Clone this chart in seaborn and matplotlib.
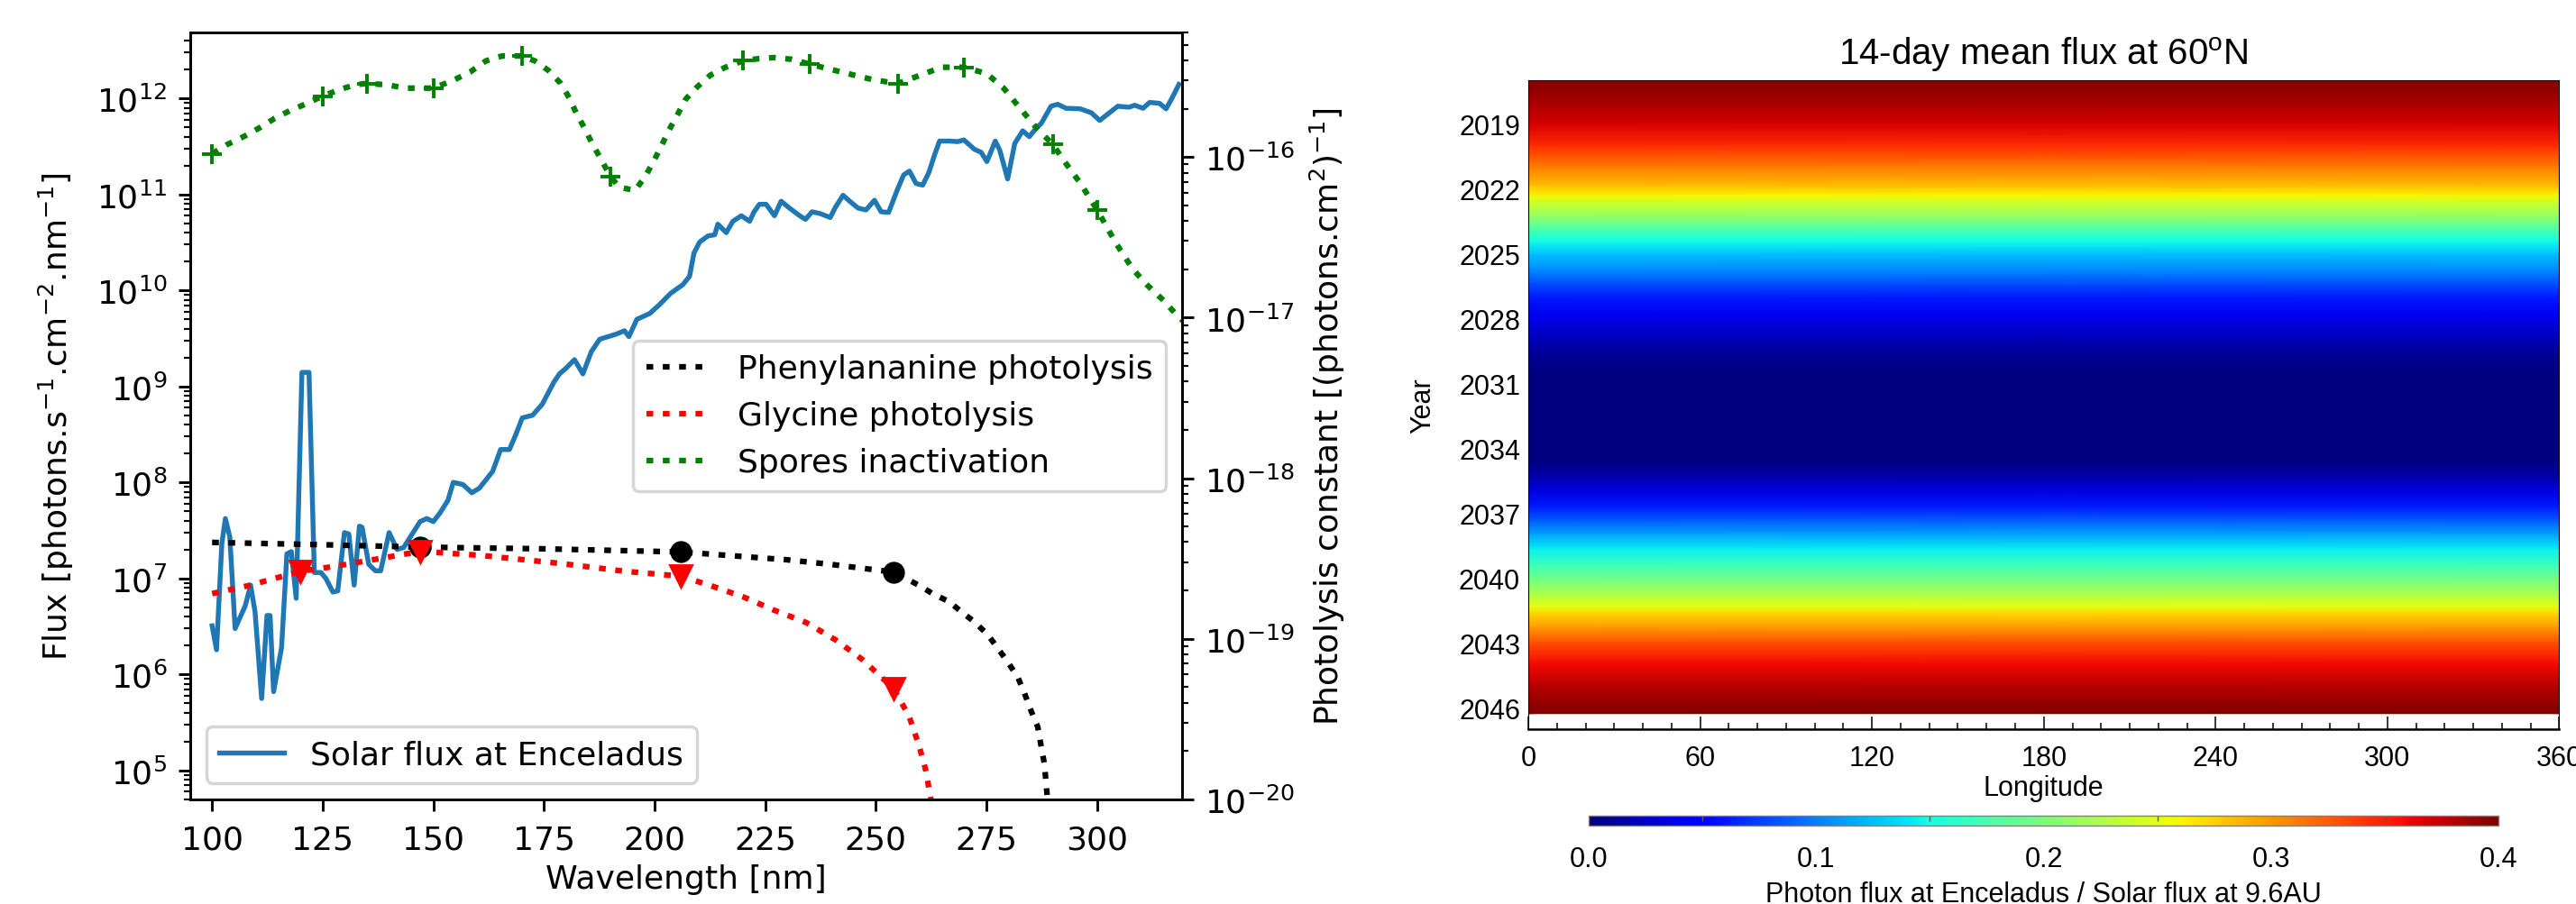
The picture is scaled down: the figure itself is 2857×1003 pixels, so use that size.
import numpy as np
import matplotlib
matplotlib.use("Agg")
import matplotlib.pyplot as plt
from matplotlib.ticker import LogLocator, NullFormatter, MultipleLocator
import seaborn as sns

# ---------------------------------------------------------------
# Left panel: solar spectrum at Enceladus and photolysis constants
# ---------------------------------------------------------------
solar_wavelength = [
    100.0, 101.0, 102.2, 103.0, 104.0, 105.2, 107.5, 108.7, 109.7, 111.2,
    112.4, 113.1, 113.9, 115.7, 116.9, 117.9, 119.0, 120.3, 121.9, 123.1,
    124.6, 125.7, 127.3, 128.4, 129.9, 130.9, 132.1, 133.3, 133.9, 135.4,
    136.9, 138.1, 140.0, 141.8, 143.3, 144.8, 147.0, 148.5, 150.0, 151.5,
    153.3, 154.5, 156.7, 158.7, 160.4, 163.4, 165.2, 167.2, 168.7, 170.1,
    172.4, 174.6, 177.2, 178.5, 180.0, 181.9, 183.8, 185.7, 187.6, 191.3,
    193.2, 194.2, 196.0, 198.9, 201.1, 203.6, 206.4, 207.9, 208.9, 210.2,
    212.1, 213.6, 214.3, 216.2, 217.7, 219.6, 221.5, 222.4, 223.7, 225.2,
    227.1, 228.6, 230.5, 232.8, 234.1, 235.6, 237.5, 239.7, 240.9, 242.6,
    244.1, 246.0, 247.8, 249.7, 251.2, 252.9, 254.8, 256.3, 257.6, 259.1,
    260.6, 262.0, 263.3, 264.4, 266.7, 268.5, 269.9, 272.3, 273.8, 275.1,
    277.0, 278.0, 279.8, 281.4, 283.2, 284.7, 286.4, 287.4, 289.6, 291.1,
    293.0, 296.2, 298.7, 300.6, 302.8, 304.7, 307.2, 308.5, 310.4, 311.9,
    314.1, 315.6, 316.9, 318.5,
]
solar_flux = [
    3.2e6, 1.8e6, 2.3e7, 4.2e7, 2.7e7, 3.0e6, 5.2e6, 8.5e6, 4.5e6, 5.6e5,
    4.1e6, 4.1e6, 6.6e5, 1.9e6, 1.8e7, 1.9e7, 6.2e6, 1.4e9, 1.4e9, 1.15e7,
    1.15e7, 1.0e7, 7.2e6, 7.4e6, 3.0e7, 2.9e7, 8.5e6, 3.5e7, 3.4e7, 1.4e7,
    1.2e7, 1.2e7, 3.0e7, 2.0e7, 2.1e7, 2.7e7, 3.9e7, 4.2e7, 3.9e7, 4.8e7,
    6.5e7, 1.0e8, 9.5e7, 7.8e7, 8.7e7, 1.3e8, 2.2e8, 2.2e8, 3.2e8, 4.7e8,
    5.0e8, 6.5e8, 1.1e9, 1.35e9, 1.55e9, 1.9e9, 1.35e9, 2.3e9, 3.1e9, 3.5e9,
    3.8e9, 3.3e9, 5.0e9, 5.75e9, 7.1e9, 9.3e9, 1.15e10, 1.4e10, 2.45e10, 3.2e10,
    3.7e10, 3.8e10, 4.9e10, 4.0e10, 5.25e10, 6.0e10, 5.25e10, 6.5e10, 7.9e10, 7.9e10,
    6.0e10, 8.5e10, 7.2e10, 6.0e10, 5.5e10, 6.6e10, 6.3e10, 5.75e10, 7.4e10, 9.8e10,
    8.5e10, 7.2e10, 6.9e10, 8.7e10, 6.6e10, 6.5e10, 1.1e11, 1.6e11, 1.75e11, 1.3e11,
    1.25e11, 1.7e11, 2.6e11, 3.6e11, 3.6e11, 3.55e11, 3.7e11, 2.95e11, 2.75e11, 2.2e11,
    3.6e11, 2.9e11, 1.45e11, 3.4e11, 4.6e11, 4.0e11, 5.0e11, 5.5e11, 8.3e11, 8.7e11,
    7.9e11, 7.8e11, 7.1e11, 5.9e11, 7.1e11, 8.3e11, 8.1e11, 8.5e11, 7.9e11, 9.1e11,
    8.9e11, 7.8e11, 1.0e12, 1.4e12,
]

phe_wavelength = [100, 125, 147, 175, 206, 230, 240, 254, 259.9, 262.8, 266.6,
                  269.6, 272.5, 275.4, 277.6, 279.9, 282.1, 283.6, 285.1, 286.6,
                  287.3, 288.1, 288.8, 289.2]
phe_constant = [3.98e-19, 3.85e-19, 3.72e-19, 3.63e-19, 3.47e-19, 3.1e-19, 2.9e-19,
                2.6e-19, 2.14e-19, 1.91e-19, 1.70e-19, 1.45e-19, 1.26e-19, 1.05e-19,
                8.7e-20, 7.1e-20, 5.75e-20, 4.57e-20, 3.55e-20, 2.82e-20, 2.19e-20,
                1.66e-20, 1.0e-20, 5.0e-21]
phe_meas_wavelength = [147, 206, 254]
phe_meas_constant = [3.72e-19, 3.47e-19, 2.6e-19]

gly_wavelength = [100, 108.2, 120, 127.6, 138, 147, 160.4, 178.4, 193.3, 206, 212.7,
                  220.1, 226.9, 234.3, 241, 247, 254, 257.5, 259.7, 261.2, 262.4, 263.0]
gly_constant = [1.91e-19, 2.14e-19, 2.63e-19, 2.82e-19, 3.16e-19, 3.5e-19, 3.31e-19,
                2.95e-19, 2.63e-19, 2.45e-19, 2.14e-19, 1.82e-19, 1.51e-19, 1.26e-19,
                9.8e-20, 7.4e-20, 4.9e-20, 3.3e-20, 2.19e-20, 1.55e-20, 1.02e-20, 7.0e-21]
gly_meas_wavelength = [120, 147, 206, 254]
gly_meas_constant = [2.63e-19, 3.5e-19, 2.45e-19, 4.9e-20]

spore_wavelength = [
    100.0, 103.2, 107.3, 110.5, 114.1, 117.6, 121.1, 125.0, 128.7, 132.3,
    135.0, 139.6, 143.7, 150.0, 154.6, 158.3, 161.9, 165.6, 170.0, 172.9,
    176.0, 178.8, 180.7, 182.4, 184.2, 186.0, 187.9, 190.0, 192.0, 195.6,
    197.9, 199.7, 201.5, 203.3, 205.1, 207.0, 209.7, 212.6, 216.0, 220.0,
    223.3, 227.0, 231.0, 235.0, 242.2, 249.7, 255.0, 261.0, 264.8, 270.0,
    275.1, 278.9, 282.7, 286.4, 290.0, 293.0, 296.2, 300.0, 304.3, 308.1,
    311.5, 315.3, 318.5, 320.0,
]
spore_constant = [
    1.05e-16, 1.19e-16, 1.35e-16, 1.51e-16, 1.74e-16, 1.95e-16, 2.14e-16, 2.4e-16, 2.63e-16, 2.82e-16,
    2.88e-16, 2.82e-16, 2.69e-16, 2.69e-16, 3.02e-16, 3.39e-16, 3.98e-16, 4.27e-16, 4.27e-16, 3.98e-16,
    3.47e-16, 2.88e-16, 2.34e-16, 1.86e-16, 1.51e-16, 1.2e-16, 9.7e-17, 7.6e-17, 6.5e-17, 6.2e-17,
    7.6e-17, 9.3e-17, 1.17e-16, 1.48e-16, 1.82e-16, 2.29e-16, 2.75e-16, 3.24e-16, 3.63e-16, 3.98e-16,
    4.1e-16, 4.17e-16, 4.07e-16, 3.8e-16, 3.39e-16, 3.02e-16, 2.88e-16, 3.31e-16, 3.63e-16, 3.63e-16,
    3.31e-16, 2.69e-16, 2.0e-16, 1.51e-16, 1.2e-16, 9.1e-17, 6.9e-17, 4.7e-17, 2.9e-17, 2.0e-17,
    1.58e-17, 1.26e-17, 1.0e-17, 9.3e-18,
]
spore_meas_wavelength = [100, 125, 135, 150, 170, 190, 220, 235, 255, 270, 290, 300]
spore_meas_constant = [1.05e-16, 2.4e-16, 2.88e-16, 2.69e-16, 4.27e-16, 7.6e-17,
                       3.98e-16, 3.8e-16, 2.88e-16, 3.63e-16, 1.2e-16, 4.7e-17]

wavelength_ticks = [100, 125, 150, 175, 200, 225, 250, 275, 300]

# ---------------------------------------------------------------
# Right panel: 14-day mean flux at 60N versus year and longitude
# ---------------------------------------------------------------
flux_year = [2016.94, 2018.0, 2019.0, 2020.0, 2021.0, 2021.8, 2022.3, 2022.6, 2023.2,
             2023.8, 2024.4, 2025.0, 2025.7, 2026.4, 2027.0, 2027.8, 2028.6, 2029.5,
             2030.5, 2034.5, 2035.3, 2036.0, 2036.7, 2037.4, 2038.0, 2038.7, 2039.4,
             2040.2, 2040.8, 2041.3, 2041.7, 2042.3, 2043.0, 2044.0, 2045.0, 2046.28]
flux_ratio = [0.400, 0.385, 0.370, 0.345, 0.310, 0.285, 0.260, 0.240, 0.215,
              0.180, 0.150, 0.125, 0.105, 0.080, 0.060, 0.040, 0.025, 0.010,
              0.000, 0.000, 0.015, 0.035, 0.060, 0.090, 0.115, 0.145, 0.170,
              0.200, 0.225, 0.250, 0.275, 0.300, 0.330, 0.360, 0.380, 0.400]
longitude_edges = [0, 360]
year_ticks = [2019, 2022, 2025, 2028, 2031, 2034, 2037, 2040, 2043, 2046]
longitude_ticks = [0, 60, 120, 180, 240, 300, 360]
ratio_ticks = [0.0, 0.1, 0.2, 0.3, 0.4]

# ---------------------------------------------------------------
W, H = 2857, 1004
fig = plt.figure(figsize=(W / 100, H / 100), dpi=100)

FS = 26          # left panel text size
LW_AX = 2.08     # axis line width
LW_DOT = 4.5
DOT = (0, (1.2, 1.7))

ax1 = fig.add_axes([0.07375, 0.1158, 0.3851, 0.8476])
ax1.set_yscale("log")
sns.lineplot(x=solar_wavelength, y=solar_flux, ax=ax1, color="#1f77b4",
             linewidth=3.9, sort=False, estimator=None,
             label="Solar flux at Enceladus")
ax1.set_xlim(95, 319.2)
ax1.set_ylim(5.0e4, 4.9e12)
ax1.set_xticks(wavelength_ticks)
ax1.yaxis.set_major_locator(LogLocator(base=10, numticks=30))
ax1.yaxis.set_minor_locator(LogLocator(base=10, subs=np.arange(2, 10), numticks=30))
ax1.yaxis.set_minor_formatter(NullFormatter())
ax1.set_xlabel("Wavelength [nm]", fontsize=FS)
ax1.set_ylabel(r"Flux [photons.s$^{-1}$.cm$^{-2}$.nm$^{-1}$]", fontsize=FS)
ax1.xaxis.label.set_va("center")
ax1.xaxis.set_label_coords(0.5, -0.1038)
ax1.yaxis.label.set_va("center")
ax1.yaxis.label.set_ha("center")
ax1.yaxis.set_label_coords(-0.1352, 0.5)
ax1.tick_params(which="major", length=9.1, width=LW_AX, labelsize=FS)
ax1.tick_params(axis="x", which="major", pad=11)
ax1.tick_params(axis="y", which="major", pad=9.1)
ax1.tick_params(which="minor", length=5.2, width=1.56)
for sp in ax1.spines.values():
    sp.set_linewidth(LW_AX)
leg1 = ax1.legend(loc="lower left", fontsize=FS)
leg1.get_frame().set_linewidth(2.5)
for ln in leg1.get_lines():
    ln.set_linewidth(3.9)

ax2 = ax1.twinx()
ax2.set_yscale("log")
sns.lineplot(x=phe_wavelength, y=phe_constant, ax=ax2, color="black", linewidth=LW_DOT,
             linestyle=DOT, sort=False, estimator=None, label="Phenylananine photolysis")
sns.lineplot(x=gly_wavelength, y=gly_constant, ax=ax2, color="red", linewidth=LW_DOT,
             linestyle=DOT, sort=False, estimator=None, label="Glycine photolysis")
sns.lineplot(x=spore_wavelength, y=spore_constant, ax=ax2, color="green", linewidth=LW_DOT,
             linestyle=DOT, sort=False, estimator=None, label="Spores inactivation")
ax2.plot(phe_meas_wavelength, phe_meas_constant, "o", color="black", ms=15.5, mew=2)
ax2.plot(gly_meas_wavelength, gly_meas_constant, "v", color="red", ms=17.5, mew=2)
ax2.plot(spore_meas_wavelength, spore_meas_constant, "+", color="green", ms=15.6, mew=2.8)
ax2.set_xlim(95, 319.2)
ax2.set_ylim(1e-20, 6.0e-16)
ax2.yaxis.set_major_locator(LogLocator(base=10, numticks=30))
ax2.yaxis.set_minor_locator(LogLocator(base=10, subs=np.arange(2, 10), numticks=30))
ax2.yaxis.set_minor_formatter(NullFormatter())
ax2.set_ylabel(r"Photolysis constant [(photons.cm$^{2}$)$^{-1}$]", fontsize=FS)
ax2.yaxis.label.set_va("center")
ax2.yaxis.label.set_ha("center")
ax2.yaxis.set_label_coords(1.1464, 0.5)
ax2.tick_params(which="major", length=9.1, width=LW_AX, labelsize=FS, pad=9.1)
ax2.tick_params(which="minor", length=5.2, width=1.56)
for sp in ax2.spines.values():
    sp.set_linewidth(LW_AX)
leg2 = ax2.legend(loc="center right", fontsize=FS)
leg2.get_frame().set_linewidth(2.5)

# ---------------------------------------------------------------
RF = ["Liberation Sans", "DejaVu Sans"]
FS_R = 22

axh = fig.add_axes([0.5933, 0.1932, 0.4002, 0.7176])
lon_grid, year_grid = np.meshgrid(longitude_edges, flux_year)
ratio_grid = np.column_stack([flux_ratio, flux_ratio])
mesh = axh.pcolormesh(lon_grid, year_grid, ratio_grid, cmap="jet", vmin=0.0, vmax=0.4,
                      shading="gouraud", rasterized=True)
axh.set_xlim(0, 360)
axh.set_ylim(2047.0, 2016.94)
axh.set_xticks(longitude_ticks)
axh.xaxis.set_minor_locator(MultipleLocator(10))
axh.set_yticks(year_ticks)
axh.tick_params(axis="x", which="major", direction="in", length=10, width=1.1,
                pad=12, labelsize=FS_R, top=False)
axh.tick_params(axis="x", which="minor", direction="in", length=5, width=1.1, top=False)
axh.tick_params(axis="y", which="both", length=0, pad=6.5, labelsize=FS_R)
for lab in axh.get_xticklabels() + axh.get_yticklabels():
    lab.set_fontfamily(RF)
for name, sp in axh.spines.items():
    sp.set_linewidth(1.8 if name == "bottom" else 0.8)
axh.set_xlabel("Longitude", fontsize=FS_R, fontfamily=RF)
axh.xaxis.label.set_va("center")
axh.xaxis.set_label_coords(0.5, -0.0902)
axh.set_ylabel("Year", fontsize=FS_R, fontfamily=RF)
axh.yaxis.label.set_va("center")
axh.yaxis.label.set_ha("center")
axh.yaxis.set_label_coords(-0.1024, 0.5)

plt.rcParams["mathtext.fontset"] = "custom"
plt.rcParams["mathtext.rm"] = "Liberation Sans"
fig.text(0.7931, 0.9392, r"14-day mean flux at 60$^{\rm o}$N", fontsize=29,
         fontfamily=RF, ha="center", va="center", math_fontfamily="custom")

cax = fig.add_axes([0.6167, 0.0867, 0.3532, 0.01096])
cb = fig.colorbar(mesh, cax=cax, orientation="horizontal")
cb.set_ticks(ratio_ticks)
cb.ax.set_xticklabels([f"{t:.1f}" for t in ratio_ticks], fontfamily=RF, fontsize=FS_R)
cb.ax.xaxis.set_minor_locator(MultipleLocator(0.05))
cb.ax.tick_params(which="major", length=0, pad=16)
cb.ax.tick_params(which="minor", bottom=False, top=True, direction="in", length=4,
                  width=1, color="0.35")
cb.outline.set_edgecolor("0.5")
cb.outline.set_linewidth(1.0)
cb.ax.set_xlabel("Photon flux at Enceladus / Solar flux at 9.6AU", fontsize=FS_R,
                 fontfamily=RF)
cb.ax.xaxis.label.set_va("center")
cb.ax.xaxis.set_label_coords(0.5, -6.9)

fig.savefig("out.png", dpi=100)
